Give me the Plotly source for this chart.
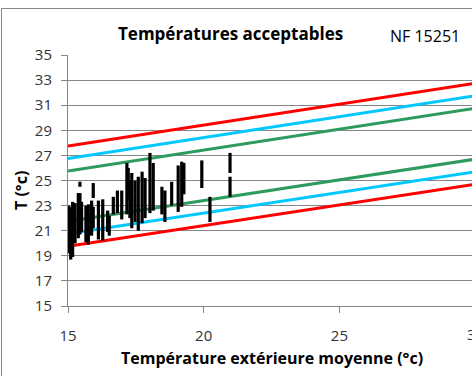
import plotly.graph_objects as go

# Comfort limit lines (EN/NF 15251) - endpoints
lim_x = [15, 30]
red_up = [27.75, 32.75]
cyan_up = [26.75, 31.75]
green_up = [25.75, 30.75]
green_lo = [21.75, 26.7]
cyan_lo = [20.75, 25.7]
red_lo = [19.75, 24.7]

# Measured indoor temperature ranges (vertical bars)
bar_x = [15.02, 15.10, 15.17, 15.26, 15.38, 15.44, 15.44, 15.50, 15.66, 15.75,
         15.87, 15.93, 15.93, 16.12, 16.28, 16.46, 16.52, 16.67, 16.82, 16.98,
         17.17, 17.22, 17.28, 17.35, 17.47, 17.59, 17.73, 17.84, 18.02, 18.14,
         18.46, 18.57, 18.82, 19.06, 19.19, 19.27, 19.93, 20.23, 20.97, 20.97]
bar_low = [19.2, 18.7, 18.9, 20.0, 20.4, 24.5, 20.7, 20.9, 20.1, 19.9,
           20.6, 23.6, 21.2, 20.3, 20.2, 20.9, 20.6, 22.3, 22.4, 21.9,
           22.3, 23.5, 22.0, 21.2, 21.7, 21.0, 21.6, 22.0, 22.4, 22.6,
           22.3, 21.7, 23.0, 22.5, 22.9, 23.9, 24.4, 21.7, 23.7, 25.6]
bar_high = [23.0, 22.9, 23.3, 23.2, 24.0, 24.9, 24.0, 23.3, 23.0, 23.1,
            23.4, 24.8, 22.9, 23.4, 23.5, 22.6, 22.2, 23.7, 24.2, 24.2,
            26.4, 26.0, 25.0, 25.6, 25.0, 25.3, 25.7, 25.2, 27.2, 26.4,
            24.5, 24.2, 24.9, 26.2, 26.5, 26.4, 26.6, 23.7, 25.3, 27.2]

y_ticks = [15, 17, 19, 21, 23, 25, 27, 29, 31, 33, 35]
x_ticks = [15, 20, 25, 30]

FONT = "Open Sans"
GRID = "#878787"
TXT = "#333333"

fig = go.Figure()
for ys, col in [(red_up, "#FF0000"), (cyan_up, "#00C8FF"), (green_up, "#2E9B5E"),
                (green_lo, "#2E9B5E"), (cyan_lo, "#00C8FF"), (red_lo, "#FF0000")]:
    fig.add_trace(go.Scatter(x=lim_x, y=ys, mode="lines",
                             line=dict(color=col, width=3), showlegend=False,
                             hoverinfo="skip"))

bx, by = [], []
for x, lo, hi in zip(bar_x, bar_low, bar_high):
    bx += [x, x, None]
    by += [lo, hi, None]
fig.add_trace(go.Scatter(x=bx, y=by, mode="lines",
                         line=dict(color="black", width=3.2), showlegend=False))

L, R, T, B = 68, 0, 55, 70
W, H = 472, 376
pw, ph = W - L - R, H - T - B


def px(xp):
    return (xp - L) / pw


def py(yp):
    return (H - B - yp) / ph


def note(text, xp, yp, size, color="black", angle=0):
    return dict(text=text, x=px(xp), y=py(yp), xref="paper", yref="paper",
                xanchor="center", yanchor="middle", showarrow=False,
                textangle=angle, font=dict(family=FONT, size=size, color=color))


fig.update_layout(
    width=W, height=H,
    margin=dict(l=L, r=R, t=T, b=B, pad=0),
    paper_bgcolor="white", plot_bgcolor="white",
    font=dict(family=FONT, size=15, color=TXT),
    xaxis=dict(range=[15, 15 + pw / 27.14], tickvals=x_ticks[:-1],
               ticks="outside", ticklen=6, tickcolor=GRID, showgrid=False,
               showline=True, linecolor=GRID, linewidth=1, zeroline=False,
               ticklabelstandoff=10,
               tickfont=dict(family=FONT, size=15, color=TXT)),
    yaxis=dict(range=[15, 35], tickvals=y_ticks, ticks="outside", ticklen=6,
               tickcolor=GRID, showgrid=True, gridcolor=GRID, gridwidth=1,
               showline=True, linecolor=GRID, linewidth=1, zeroline=False,
               ticklabelstandoff=6,
               tickfont=dict(family=FONT, size=15, color=TXT)),
    shapes=[dict(type="rect", xref="paper", yref="paper",
                 x0=px(1.5), x1=1.3, y0=-0.6, y1=py(8.5),
                 line=dict(color=GRID, width=1), layer="below")],
    annotations=[
        note("<b>Températures acceptables</b>", 230, 33, 17),
        note("NF 15251", 425, 36, 16),
        note("<b>Température extérieure moyenne (°c)</b>", 272, 358, 16),
        note("<b>T (°c)</b>", 21, 191, 16, angle=-90),
        note(str(x_ticks[-1]), 475.4, 334, 15, color=TXT),
    ],
)

fig.write_html("out.html", config={"displayModeBar": False},
               post_script="document.body.style.margin='0';")
